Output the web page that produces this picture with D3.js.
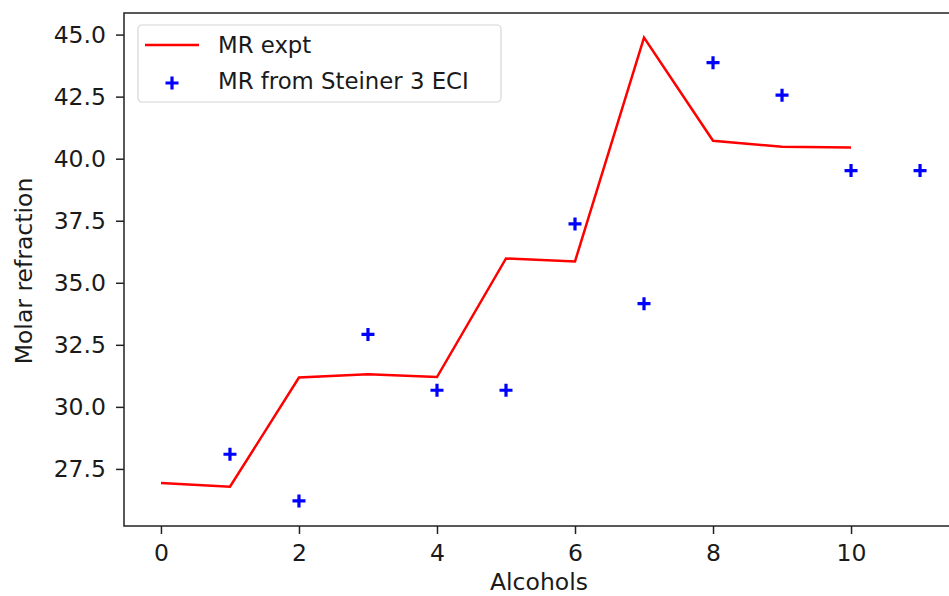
<!DOCTYPE html>
<html>
<head>
<meta charset="utf-8">
<script src="https://cdn.jsdelivr.net/npm/d3@7"></script>
<style>
  body { margin: 0; background: #fff; overflow: hidden; }
  text { font-family: "DejaVu Sans", sans-serif; fill: #1a1a1a; }
</style>
</head>
<body>
<div id="chart"></div>
<script>
var width = 949, height = 596;
var plotLeft = 124, plotRight = 958, plotTop = 13, plotBottom = 526;
var fontSize = 23.5;

// data
var exptX = [0, 1, 2, 3, 4, 5, 6, 7, 8, 9, 10];
var exptY = [26.93, 26.78, 31.18, 31.31, 31.2, 35.98, 35.86, 44.88, 40.72, 40.48, 40.45];
var steinerX = [1, 2, 3, 4, 5, 6, 7, 8, 9, 10, 11];
var steinerY = [28.09, 26.21, 32.92, 30.67, 30.67, 37.37, 34.16, 43.87, 42.56, 39.52, 39.52];
var xTicks = [0, 2, 4, 6, 8, 10];
var yTicks = [27.5, 30.0, 32.5, 35.0, 37.5, 40.0, 42.5, 45.0];

var svg = d3.select("#chart").append("svg")
  .attr("width", width)
  .attr("height", height)
  .style("display", "block");

var x = d3.scaleLinear().domain([-0.55, 11.55]).range([plotLeft - 1, plotRight]);
var y = d3.scaleLinear().domain([25.2, 45.87]).range([plotBottom, plotTop]);

var xAxis = svg.append("g")
  .attr("transform", "translate(0," + plotBottom + ")")
  .call(d3.axisBottom(x).tickValues(xTicks).tickSize(8).tickPadding(10).tickFormat(d3.format("d")));
var yAxis = svg.append("g")
  .attr("transform", "translate(" + plotLeft + ",0)")
  .call(d3.axisLeft(y).tickValues(yTicks).tickSize(8).tickPadding(10).tickFormat(d3.format(".1f")));

[xAxis, yAxis].forEach(function(a) {
  a.select(".domain").remove();
  a.selectAll("line").attr("stroke", "#222").attr("stroke-width", 1.5);
  a.selectAll("text").attr("font-size", fontSize).attr("fill", "#1a1a1a")
    .attr("font-family", "DejaVu Sans, sans-serif");
});

// frame (right edge falls outside the picture)
svg.append("rect")
  .attr("x", plotLeft).attr("y", plotTop)
  .attr("width", plotRight - plotLeft)
  .attr("height", plotBottom - plotTop)
  .attr("fill", "none").attr("stroke", "#222").attr("stroke-width", 1.5);

var line = d3.line()
  .x(function(d, i) { return x(exptX[i]); })
  .y(function(d) { return y(d); });

svg.append("path")
  .datum(exptY)
  .attr("d", line)
  .attr("fill", "none")
  .attr("stroke", "#ff0000")
  .attr("stroke-width", 2.5);

function plusPath(s) {
  return "M" + (-s) + ",0H" + s + "M0," + (-s) + "V" + s;
}

svg.append("g").selectAll("path")
  .data(steinerY)
  .enter().append("path")
  .attr("transform", function(d, i) { return "translate(" + x(steinerX[i]) + "," + y(d) + ")"; })
  .attr("d", plusPath(6.5))
  .attr("stroke", "#0000ff")
  .attr("stroke-width", 3.2)
  .attr("fill", "none");

// legend
var lg = svg.append("g").attr("transform", "translate(138,25)");
lg.append("rect")
  .attr("width", 363).attr("height", 77).attr("rx", 4)
  .attr("fill", "#fff").attr("stroke", "#d6d6d6").attr("stroke-width", 1.2);
lg.append("line")
  .attr("x1", 7).attr("x2", 61).attr("y1", 20).attr("y2", 20)
  .attr("stroke", "#ff0000").attr("stroke-width", 2.5);
lg.append("text").attr("x", 80).attr("y", 28).attr("font-size", 22.8).text("MR expt");
lg.append("path")
  .attr("transform", "translate(34,58)")
  .attr("d", plusPath(6.5))
  .attr("stroke", "#0000ff").attr("stroke-width", 3.2);
lg.append("text").attr("x", 80).attr("y", 64).attr("font-size", 22.8).text("MR from Steiner 3 ECI");

// axis labels
svg.append("text")
  .attr("x", 539).attr("y", 590)
  .attr("text-anchor", "middle").attr("font-size", fontSize)
  .text("Alcohols");
svg.append("text")
  .attr("transform", "translate(32,271) rotate(-90)")
  .attr("text-anchor", "middle").attr("font-size", fontSize)
  .text("Molar refraction");
</script>
</body>
</html>
